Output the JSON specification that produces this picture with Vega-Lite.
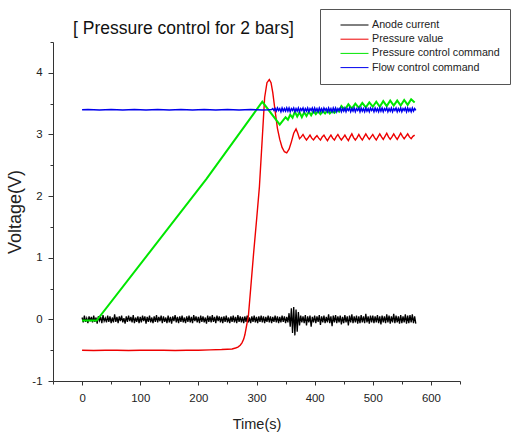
{
"$schema": "https://vega.github.io/schema/vega-lite/v6.json",
"width": 407, "height": 339,
"autosize": {"type": "none"},
"padding": {"left": 53, "top": 42, "right": 55, "bottom": 51},
"background": "white",
"config": {"view": {"stroke": null}, "font": "Liberation Sans"},
"title": {"text": "[ Pressure control for 2 bars]", "anchor": "start", "frame": "group", "dx": 20, "fontSize": 17.5, "fontWeight": "normal", "font": "Liberation Sans", "color": "#111", "offset": -29},
"data": {"values": [
{"s":"A","t":0,"v":0.03},{"s":"A","t":2,"v":-0.05},{"s":"A","t":4,"v":0.06},{"s":"A","t":6,"v":-0.04},{"s":"A","t":8,"v":0.02},{"s":"A","t":10,"v":-0.06},{"s":"A","t":12,"v":0.05},{"s":"A","t":14,"v":-0.03},{"s":"A","t":16,"v":0.04},{"s":"A","t":18,"v":-0.05},
{"s":"A","t":20,"v":0.06},{"s":"A","t":22,"v":-0.04},{"s":"A","t":24,"v":0.03},{"s":"A","t":26,"v":-0.07},{"s":"A","t":28,"v":0.05},{"s":"A","t":30,"v":-0.02},{"s":"A","t":32,"v":0.04},{"s":"A","t":34,"v":-0.06},{"s":"A","t":36,"v":0.07},{"s":"A","t":38,"v":-0.03},
{"s":"A","t":40,"v":0.02},{"s":"A","t":42,"v":-0.05},{"s":"A","t":44,"v":0.06},{"s":"A","t":46,"v":-0.04},{"s":"A","t":48,"v":0.05},{"s":"A","t":50,"v":-0.06},{"s":"A","t":52,"v":0.03},{"s":"A","t":54,"v":-0.05},{"s":"A","t":56,"v":0.08},{"s":"A","t":58,"v":-0.04},
{"s":"A","t":60,"v":0.04},{"s":"A","t":62,"v":-0.06},{"s":"A","t":64,"v":0.05},{"s":"A","t":66,"v":-0.03},{"s":"A","t":68,"v":0.06},{"s":"A","t":70,"v":-0.05},{"s":"A","t":72,"v":0.02},{"s":"A","t":74,"v":-0.07},{"s":"A","t":76,"v":0.05},{"s":"A","t":78,"v":-0.04},
{"s":"A","t":80,"v":0.06},{"s":"A","t":82,"v":-0.03},{"s":"A","t":84,"v":0.04},{"s":"A","t":86,"v":-0.05},{"s":"A","t":88,"v":0.07},{"s":"A","t":90,"v":-0.06},{"s":"A","t":92,"v":0.03},{"s":"A","t":94,"v":-0.04},{"s":"A","t":96,"v":0.05},{"s":"A","t":98,"v":-0.06},
{"s":"A","t":100,"v":0.04},{"s":"A","t":102,"v":-0.05},{"s":"A","t":104,"v":0.06},{"s":"A","t":106,"v":-0.03},{"s":"A","t":108,"v":0.05},{"s":"A","t":110,"v":-0.07},{"s":"A","t":112,"v":0.04},{"s":"A","t":114,"v":-0.04},{"s":"A","t":116,"v":0.06},{"s":"A","t":118,"v":-0.05},
{"s":"A","t":120,"v":0.03},{"s":"A","t":122,"v":-0.06},{"s":"A","t":124,"v":0.05},{"s":"A","t":126,"v":-0.04},{"s":"A","t":128,"v":0.07},{"s":"A","t":130,"v":-0.05},{"s":"A","t":132,"v":0.04},{"s":"A","t":134,"v":-0.03},{"s":"A","t":136,"v":0.06},{"s":"A","t":138,"v":-0.06},
{"s":"A","t":140,"v":0.05},{"s":"A","t":142,"v":-0.04},{"s":"A","t":144,"v":0.03},{"s":"A","t":146,"v":-0.06},{"s":"A","t":148,"v":0.06},{"s":"A","t":150,"v":-0.05},{"s":"A","t":152,"v":0.04},{"s":"A","t":154,"v":-0.07},{"s":"A","t":156,"v":0.05},{"s":"A","t":158,"v":-0.03},
{"s":"A","t":160,"v":0.07},{"s":"A","t":162,"v":-0.05},{"s":"A","t":164,"v":0.04},{"s":"A","t":166,"v":-0.06},{"s":"A","t":168,"v":0.05},{"s":"A","t":170,"v":-0.04},{"s":"A","t":172,"v":0.06},{"s":"A","t":174,"v":-0.05},{"s":"A","t":176,"v":0.03},{"s":"A","t":178,"v":-0.06},
{"s":"A","t":180,"v":0.05},{"s":"A","t":182,"v":-0.04},{"s":"A","t":184,"v":0.06},{"s":"A","t":186,"v":-0.05},{"s":"A","t":188,"v":0.04},{"s":"A","t":190,"v":-0.06},{"s":"A","t":192,"v":0.07},{"s":"A","t":194,"v":-0.03},{"s":"A","t":196,"v":0.05},{"s":"A","t":198,"v":-0.05},
{"s":"A","t":200,"v":0.04},{"s":"A","t":202,"v":-0.06},{"s":"A","t":204,"v":0.06},{"s":"A","t":206,"v":-0.04},{"s":"A","t":208,"v":0.05},{"s":"A","t":210,"v":-0.05},{"s":"A","t":212,"v":0.03},{"s":"A","t":214,"v":-0.07},{"s":"A","t":216,"v":0.06},{"s":"A","t":218,"v":-0.04},
{"s":"A","t":220,"v":0.05},{"s":"A","t":222,"v":-0.05},{"s":"A","t":224,"v":0.07},{"s":"A","t":226,"v":-0.04},{"s":"A","t":228,"v":0.04},{"s":"A","t":230,"v":-0.06},{"s":"A","t":232,"v":0.06},{"s":"A","t":234,"v":-0.03},{"s":"A","t":236,"v":0.05},{"s":"A","t":238,"v":-0.05},
{"s":"A","t":240,"v":0.04},{"s":"A","t":242,"v":-0.06},{"s":"A","t":244,"v":0.05},{"s":"A","t":246,"v":-0.04},{"s":"A","t":248,"v":0.06},{"s":"A","t":250,"v":-0.05},{"s":"A","t":252,"v":0.03},{"s":"A","t":254,"v":-0.06},{"s":"A","t":256,"v":0.05},{"s":"A","t":258,"v":-0.04},
{"s":"A","t":260,"v":0.06},{"s":"A","t":262,"v":-0.05},{"s":"A","t":264,"v":0.04},{"s":"A","t":266,"v":-0.06},{"s":"A","t":268,"v":0.07},{"s":"A","t":270,"v":-0.04},{"s":"A","t":272,"v":0.05},{"s":"A","t":274,"v":-0.05},{"s":"A","t":276,"v":0.04},{"s":"A","t":278,"v":-0.06},
{"s":"A","t":280,"v":0.05},{"s":"A","t":282,"v":-0.04},{"s":"A","t":284,"v":0.06},{"s":"A","t":286,"v":-0.05},{"s":"A","t":288,"v":0.03},{"s":"A","t":290,"v":-0.06},{"s":"A","t":292,"v":0.05},{"s":"A","t":294,"v":-0.04},{"s":"A","t":296,"v":0.06},{"s":"A","t":298,"v":-0.05},
{"s":"A","t":300,"v":0.04},{"s":"A","t":302,"v":-0.06},{"s":"A","t":304,"v":0.05},{"s":"A","t":306,"v":-0.04},{"s":"A","t":308,"v":0.06},{"s":"A","t":310,"v":-0.05},{"s":"A","t":312,"v":0.05},{"s":"A","t":314,"v":-0.06},{"s":"A","t":316,"v":0.04},{"s":"A","t":318,"v":-0.04},
{"s":"A","t":320,"v":0.06},{"s":"A","t":322,"v":-0.05},{"s":"A","t":324,"v":0.05},{"s":"A","t":326,"v":-0.06},{"s":"A","t":328,"v":0.04},{"s":"A","t":330,"v":-0.04},{"s":"A","t":332,"v":0.06},{"s":"A","t":334,"v":-0.05},{"s":"A","t":336,"v":0.05},{"s":"A","t":338,"v":-0.06},
{"s":"A","t":340,"v":0.04},{"s":"A","t":342,"v":-0.05},{"s":"A","t":344,"v":0.06},{"s":"A","t":346,"v":-0.04},{"s":"A","t":348,"v":0.05},{"s":"A","t":350,"v":-0.06},{"s":"A","t":352,"v":0.04},{"s":"A","t":354,"v":-0.05},{"s":"A","t":356,"v":0.10},{"s":"A","t":358,"v":-0.12},
{"s":"A","t":360,"v":0.18},{"s":"A","t":362,"v":-0.22},{"s":"A","t":364,"v":0.20},{"s":"A","t":366,"v":-0.26},{"s":"A","t":368,"v":0.16},{"s":"A","t":370,"v":-0.20},{"s":"A","t":372,"v":0.12},{"s":"A","t":374,"v":-0.10},{"s":"A","t":376,"v":0.06},{"s":"A","t":378,"v":-0.05},
{"s":"A","t":380,"v":0.05},{"s":"A","t":382,"v":-0.06},{"s":"A","t":384,"v":0.07},{"s":"A","t":386,"v":-0.10},{"s":"A","t":388,"v":0.05},{"s":"A","t":390,"v":-0.05},{"s":"A","t":392,"v":0.06},{"s":"A","t":394,"v":-0.12},{"s":"A","t":396,"v":0.04},{"s":"A","t":398,"v":-0.05},
{"s":"A","t":400,"v":0.06},{"s":"A","t":402,"v":-0.06},{"s":"A","t":404,"v":0.05},{"s":"A","t":406,"v":-0.04},{"s":"A","t":408,"v":0.07},{"s":"A","t":410,"v":-0.09},{"s":"A","t":412,"v":0.05},{"s":"A","t":414,"v":-0.05},{"s":"A","t":416,"v":0.06},{"s":"A","t":418,"v":-0.06},
{"s":"A","t":420,"v":0.04},{"s":"A","t":422,"v":-0.05},{"s":"A","t":424,"v":0.08},{"s":"A","t":426,"v":-0.06},{"s":"A","t":428,"v":0.05},{"s":"A","t":430,"v":-0.11},{"s":"A","t":432,"v":0.06},{"s":"A","t":434,"v":-0.05},{"s":"A","t":436,"v":0.07},{"s":"A","t":438,"v":-0.06},
{"s":"A","t":440,"v":0.05},{"s":"A","t":442,"v":-0.05},{"s":"A","t":444,"v":0.06},{"s":"A","t":446,"v":-0.08},{"s":"A","t":448,"v":0.04},{"s":"A","t":450,"v":-0.06},{"s":"A","t":452,"v":0.07},{"s":"A","t":454,"v":-0.05},{"s":"A","t":456,"v":0.05},{"s":"A","t":458,"v":-0.10},
{"s":"A","t":460,"v":0.06},{"s":"A","t":462,"v":-0.05},{"s":"A","t":464,"v":0.08},{"s":"A","t":466,"v":-0.06},{"s":"A","t":468,"v":0.05},{"s":"A","t":470,"v":-0.05},{"s":"A","t":472,"v":0.06},{"s":"A","t":474,"v":-0.07},{"s":"A","t":476,"v":0.05},{"s":"A","t":478,"v":-0.06},
{"s":"A","t":480,"v":0.07},{"s":"A","t":482,"v":-0.05},{"s":"A","t":484,"v":0.05},{"s":"A","t":486,"v":-0.06},{"s":"A","t":488,"v":0.09},{"s":"A","t":490,"v":-0.05},{"s":"A","t":492,"v":0.05},{"s":"A","t":494,"v":-0.07},{"s":"A","t":496,"v":0.06},{"s":"A","t":498,"v":-0.05},
{"s":"A","t":500,"v":0.06},{"s":"A","t":502,"v":-0.06},{"s":"A","t":504,"v":0.05},{"s":"A","t":506,"v":-0.05},{"s":"A","t":508,"v":0.07},{"s":"A","t":510,"v":-0.06},{"s":"A","t":512,"v":0.05},{"s":"A","t":514,"v":-0.08},{"s":"A","t":516,"v":0.06},{"s":"A","t":518,"v":-0.05},
{"s":"A","t":520,"v":0.05},{"s":"A","t":522,"v":-0.06},{"s":"A","t":524,"v":0.08},{"s":"A","t":526,"v":-0.05},{"s":"A","t":528,"v":0.06},{"s":"A","t":530,"v":-0.07},{"s":"A","t":532,"v":0.05},{"s":"A","t":534,"v":-0.05},{"s":"A","t":536,"v":0.09},{"s":"A","t":538,"v":-0.06},
{"s":"A","t":540,"v":0.06},{"s":"A","t":542,"v":-0.05},{"s":"A","t":544,"v":0.05},{"s":"A","t":546,"v":-0.07},{"s":"A","t":548,"v":0.07},{"s":"A","t":550,"v":-0.06},{"s":"A","t":552,"v":0.05},{"s":"A","t":554,"v":-0.05},{"s":"A","t":556,"v":0.08},{"s":"A","t":558,"v":-0.07},
{"s":"A","t":560,"v":0.06},{"s":"A","t":562,"v":-0.06},{"s":"A","t":564,"v":0.07},{"s":"A","t":566,"v":-0.05},{"s":"A","t":568,"v":0.08},{"s":"A","t":570,"v":-0.06},{"s":"A","t":572,"v":0.05},{"s":"A","t":574,"v":-0.07},
{"s":"P","t":0,"v":-0.5},{"s":"P","t":20,"v":-0.505},{"s":"P","t":40,"v":-0.5},{"s":"P","t":60,"v":-0.5},{"s":"P","t":80,"v":-0.505},{"s":"P","t":100,"v":-0.5},{"s":"P","t":120,"v":-0.5},{"s":"P","t":140,"v":-0.5},{"s":"P","t":160,"v":-0.505},{"s":"P","t":180,"v":-0.5},{"s":"P","t":200,"v":-0.5},{"s":"P","t":220,"v":-0.495},{"s":"P","t":240,"v":-0.49},{"s":"P","t":250,"v":-0.485},{"s":"P","t":258,"v":-0.48},{"s":"P","t":264,"v":-0.465},{"s":"P","t":268,"v":-0.45},{"s":"P","t":272,"v":-0.42},{"s":"P","t":275,"v":-0.38},{"s":"P","t":278,"v":-0.32},{"s":"P","t":280,"v":-0.25},{"s":"P","t":282,"v":-0.15},{"s":"P","t":284,"v":-0.05},{"s":"P","t":286,"v":0.05},
{"s":"P","t":290,"v":0.5},{"s":"P","t":295,"v":1.07},{"s":"P","t":300,"v":1.6},{"s":"P","t":305,"v":2.15},{"s":"P","t":310,"v":2.95},{"s":"P","t":314,"v":3.6},{"s":"P","t":318,"v":3.84},{"s":"P","t":322,"v":3.89},{"s":"P","t":325,"v":3.84},{"s":"P","t":328,"v":3.68},{"s":"P","t":332,"v":3.38},{"s":"P","t":336,"v":3.1},{"s":"P","t":340,"v":2.92},{"s":"P","t":344,"v":2.79},{"s":"P","t":348,"v":2.72},{"s":"P","t":352,"v":2.7},{"s":"P","t":356,"v":2.76},{"s":"P","t":360,"v":2.88},{"s":"P","t":364,"v":3.02},{"s":"P","t":368,"v":3.09},{"s":"P","t":371,"v":3.02},
{"s":"P","t":374,"v":2.93},{"s":"P","t":377,"v":2.96},{"s":"P","t":380,"v":3.0},{"s":"P","t":383,"v":2.95},{"s":"P","t":386,"v":2.91},{"s":"P","t":389,"v":2.95},{"s":"P","t":392,"v":2.99},{"s":"P","t":395,"v":2.94},{"s":"P","t":398,"v":2.91},{"s":"P","t":401,"v":2.95},{"s":"P","t":404,"v":2.98},{"s":"P","t":407,"v":2.94},{"s":"P","t":410,"v":2.91},{"s":"P","t":413,"v":2.96},{"s":"P","t":416,"v":2.99},{"s":"P","t":419,"v":2.94},{"s":"P","t":422,"v":2.9},{"s":"P","t":425,"v":2.95},{"s":"P","t":428,"v":2.99},{"s":"P","t":431,"v":2.94},{"s":"P","t":434,"v":2.91},{"s":"P","t":437,"v":2.96},{"s":"P","t":440,"v":3.0},{"s":"P","t":443,"v":2.95},{"s":"P","t":446,"v":2.91},{"s":"P","t":449,"v":2.95},{"s":"P","t":452,"v":2.99},{"s":"P","t":455,"v":2.94},{"s":"P","t":458,"v":2.9},{"s":"P","t":461,"v":2.96},{"s":"P","t":464,"v":3.01},{"s":"P","t":467,"v":2.95},{"s":"P","t":470,"v":2.91},{"s":"P","t":473,"v":2.95},{"s":"P","t":476,"v":3.0},{"s":"P","t":479,"v":2.95},{"s":"P","t":482,"v":2.91},{"s":"P","t":485,"v":2.96},{"s":"P","t":488,"v":3.01},{"s":"P","t":491,"v":2.96},{"s":"P","t":494,"v":2.92},{"s":"P","t":497,"v":2.96},{"s":"P","t":500,"v":3.0},{"s":"P","t":503,"v":2.95},{"s":"P","t":506,"v":2.91},{"s":"P","t":509,"v":2.96},{"s":"P","t":512,"v":3.01},{"s":"P","t":515,"v":2.96},{"s":"P","t":518,"v":2.92},{"s":"P","t":521,"v":2.97},{"s":"P","t":524,"v":3.02},{"s":"P","t":527,"v":2.96},{"s":"P","t":530,"v":2.92},{"s":"P","t":533,"v":2.96},{"s":"P","t":536,"v":3.01},{"s":"P","t":539,"v":2.96},{"s":"P","t":542,"v":2.92},{"s":"P","t":545,"v":2.97},{"s":"P","t":548,"v":3.02},{"s":"P","t":551,"v":2.97},{"s":"P","t":554,"v":2.93},{"s":"P","t":557,"v":2.97},{"s":"P","t":560,"v":3.01},{"s":"P","t":563,"v":2.96},{"s":"P","t":566,"v":2.93},{"s":"P","t":569,"v":2.97},{"s":"P","t":572,"v":2.99},
{"s":"C","t":0,"v":-0.02},{"s":"C","t":25,"v":-0.02},{"s":"C","t":214,"v":2.28},{"s":"C","t":310,"v":3.53},{"s":"C","t":340,"v":3.16},{"s":"C","t":345,"v":3.22},{"s":"C","t":350,"v":3.28},{"s":"C","t":354,"v":3.24},{"s":"C","t":358,"v":3.32},{"s":"C","t":362,"v":3.27},{"s":"C","t":366,"v":3.37},{"s":"C","t":370,"v":3.29},{"s":"C","t":374,"v":3.36},{"s":"C","t":378,"v":3.28},{"s":"C","t":382,"v":3.36},{"s":"C","t":386,"v":3.3},{"s":"C","t":390,"v":3.37},{"s":"C","t":394,"v":3.31},{"s":"C","t":398,"v":3.38},{"s":"C","t":402,"v":3.33},{"s":"C","t":406,"v":3.38},{"s":"C","t":410,"v":3.33},{"s":"C","t":414,"v":3.38},{"s":"C","t":418,"v":3.34},{"s":"C","t":422,"v":3.39},{"s":"C","t":426,"v":3.34},{"s":"C","t":430,"v":3.38},{"s":"C","t":434,"v":3.35},{"s":"C","t":438,"v":3.4},{"s":"C","t":442,"v":3.37},
{"s":"C","t":446,"v":3.46},{"s":"C","t":452,"v":3.4},{"s":"C","t":458,"v":3.49},{"s":"C","t":464,"v":3.42},{"s":"C","t":470,"v":3.5},{"s":"C","t":476,"v":3.43},{"s":"C","t":482,"v":3.51},{"s":"C","t":488,"v":3.44},{"s":"C","t":494,"v":3.52},{"s":"C","t":500,"v":3.45},{"s":"C","t":506,"v":3.53},{"s":"C","t":512,"v":3.45},{"s":"C","t":518,"v":3.54},{"s":"C","t":524,"v":3.46},{"s":"C","t":530,"v":3.55},{"s":"C","t":536,"v":3.47},{"s":"C","t":542,"v":3.55},{"s":"C","t":548,"v":3.47},{"s":"C","t":554,"v":3.56},{"s":"C","t":560,"v":3.48},{"s":"C","t":566,"v":3.57},{"s":"C","t":572,"v":3.52},
{"s":"F","t":0,"v":3.4},{"s":"F","t":10,"v":3.405},{"s":"F","t":20,"v":3.4},{"s":"F","t":30,"v":3.395},{"s":"F","t":40,"v":3.4},{"s":"F","t":50,"v":3.405},{"s":"F","t":60,"v":3.4},{"s":"F","t":70,"v":3.395},{"s":"F","t":80,"v":3.4},{"s":"F","t":90,"v":3.405},{"s":"F","t":100,"v":3.4},{"s":"F","t":110,"v":3.395},{"s":"F","t":120,"v":3.4},{"s":"F","t":130,"v":3.405},{"s":"F","t":140,"v":3.4},{"s":"F","t":150,"v":3.395},{"s":"F","t":160,"v":3.4},{"s":"F","t":170,"v":3.405},{"s":"F","t":180,"v":3.4},{"s":"F","t":190,"v":3.395},{"s":"F","t":200,"v":3.4},{"s":"F","t":210,"v":3.405},{"s":"F","t":220,"v":3.4},{"s":"F","t":230,"v":3.395},{"s":"F","t":240,"v":3.4},{"s":"F","t":250,"v":3.405},{"s":"F","t":260,"v":3.4},{"s":"F","t":270,"v":3.395},{"s":"F","t":280,"v":3.4},{"s":"F","t":290,"v":3.405},{"s":"F","t":300,"v":3.4},{"s":"F","t":310,"v":3.395},{"s":"F","t":320,"v":3.4},{"s":"F","t":326,"v":3.405},
{"s":"F","t":328,"v":3.42},{"s":"F","t":330,"v":3.39},{"s":"F","t":332,"v":3.42},{"s":"F","t":334,"v":3.38},{"s":"F","t":336,"v":3.43},{"s":"F","t":338,"v":3.39},{"s":"F","t":340,"v":3.42},{"s":"F","t":342,"v":3.37},{"s":"F","t":344,"v":3.43},{"s":"F","t":346,"v":3.38},
{"s":"F","t":348,"v":3.42},{"s":"F","t":350,"v":3.38},{"s":"F","t":352,"v":3.43},{"s":"F","t":354,"v":3.38},{"s":"F","t":356,"v":3.43},{"s":"F","t":358,"v":3.37},{"s":"F","t":360,"v":3.42},{"s":"F","t":362,"v":3.39},{"s":"F","t":364,"v":3.43},{"s":"F","t":366,"v":3.37},
{"s":"F","t":368,"v":3.42},{"s":"F","t":370,"v":3.38},{"s":"F","t":372,"v":3.43},{"s":"F","t":374,"v":3.37},{"s":"F","t":376,"v":3.42},{"s":"F","t":378,"v":3.39},{"s":"F","t":380,"v":3.43},{"s":"F","t":382,"v":3.37},{"s":"F","t":384,"v":3.42},{"s":"F","t":386,"v":3.38},
{"s":"F","t":388,"v":3.43},{"s":"F","t":390,"v":3.37},{"s":"F","t":392,"v":3.42},{"s":"F","t":394,"v":3.39},{"s":"F","t":396,"v":3.43},{"s":"F","t":398,"v":3.37},{"s":"F","t":400,"v":3.43},{"s":"F","t":402,"v":3.38},{"s":"F","t":404,"v":3.42},{"s":"F","t":406,"v":3.37},
{"s":"F","t":408,"v":3.43},{"s":"F","t":410,"v":3.38},{"s":"F","t":412,"v":3.42},{"s":"F","t":414,"v":3.37},{"s":"F","t":416,"v":3.43},{"s":"F","t":418,"v":3.39},{"s":"F","t":420,"v":3.42},{"s":"F","t":422,"v":3.37},{"s":"F","t":424,"v":3.43},{"s":"F","t":426,"v":3.38},
{"s":"F","t":428,"v":3.42},{"s":"F","t":430,"v":3.37},{"s":"F","t":432,"v":3.43},{"s":"F","t":434,"v":3.38},{"s":"F","t":436,"v":3.43},{"s":"F","t":438,"v":3.37},{"s":"F","t":440,"v":3.42},{"s":"F","t":442,"v":3.39},{"s":"F","t":444,"v":3.43},{"s":"F","t":446,"v":3.37},
{"s":"F","t":448,"v":3.42},{"s":"F","t":450,"v":3.38},{"s":"F","t":452,"v":3.43},{"s":"F","t":454,"v":3.37},{"s":"F","t":456,"v":3.42},{"s":"F","t":458,"v":3.39},{"s":"F","t":460,"v":3.43},{"s":"F","t":462,"v":3.37},{"s":"F","t":464,"v":3.42},{"s":"F","t":466,"v":3.38},
{"s":"F","t":468,"v":3.43},{"s":"F","t":470,"v":3.37},{"s":"F","t":472,"v":3.42},{"s":"F","t":474,"v":3.39},{"s":"F","t":476,"v":3.43},{"s":"F","t":478,"v":3.37},{"s":"F","t":480,"v":3.43},{"s":"F","t":482,"v":3.38},{"s":"F","t":484,"v":3.42},{"s":"F","t":486,"v":3.37},
{"s":"F","t":488,"v":3.43},{"s":"F","t":490,"v":3.38},{"s":"F","t":492,"v":3.42},{"s":"F","t":494,"v":3.37},{"s":"F","t":496,"v":3.43},{"s":"F","t":498,"v":3.39},{"s":"F","t":500,"v":3.42},{"s":"F","t":502,"v":3.37},{"s":"F","t":504,"v":3.43},{"s":"F","t":506,"v":3.38},
{"s":"F","t":508,"v":3.42},{"s":"F","t":510,"v":3.37},{"s":"F","t":512,"v":3.43},{"s":"F","t":514,"v":3.38},{"s":"F","t":516,"v":3.43},{"s":"F","t":518,"v":3.37},{"s":"F","t":520,"v":3.42},{"s":"F","t":522,"v":3.39},{"s":"F","t":524,"v":3.43},{"s":"F","t":526,"v":3.37},
{"s":"F","t":528,"v":3.42},{"s":"F","t":530,"v":3.38},{"s":"F","t":532,"v":3.43},{"s":"F","t":534,"v":3.37},{"s":"F","t":536,"v":3.42},{"s":"F","t":538,"v":3.39},{"s":"F","t":540,"v":3.43},{"s":"F","t":542,"v":3.37},{"s":"F","t":544,"v":3.42},{"s":"F","t":546,"v":3.38},
{"s":"F","t":548,"v":3.43},{"s":"F","t":550,"v":3.37},{"s":"F","t":552,"v":3.42},{"s":"F","t":554,"v":3.39},{"s":"F","t":556,"v":3.43},{"s":"F","t":558,"v":3.37},{"s":"F","t":560,"v":3.43},{"s":"F","t":562,"v":3.38},{"s":"F","t":564,"v":3.42},{"s":"F","t":566,"v":3.37},
{"s":"F","t":568,"v":3.43},{"s":"F","t":570,"v":3.38},{"s":"F","t":572,"v":3.42},{"s":"F","t":574,"v":3.39}
]},
"encoding": {
"x": {"field": "t", "type": "quantitative", "scale": {"domain": [-50, 650], "nice": false, "zero": false},
 "axis": {"title": "Time(s)", "values": [-50,0,50,100,150,200,250,300,350,400,450,500,550,600,650],
  "labelExpr": "datum.value % 100 === 0 && datum.value >= 0 && datum.value <= 600 ? '' + datum.value : ''",
  "grid": false, "domainColor": "#333", "tickColor": "#333", "tickSize": {"condition": {"test": "datum.value % 100 === 0", "value": 4}, "value": 3},
  "labelFontSize": 11.4, "labelPadding": 7, "labelFont": "Liberation Sans", "labelColor": "#222", "labelFlush": false, "labelOverlap": false,
  "titleFontSize": 14.5, "titleFontWeight": "normal", "titleFont": "Liberation Sans", "titleColor": "#222", "titlePadding": 14}},
"y": {"field": "v", "type": "quantitative", "scale": {"domain": [-1, 4.5], "nice": false, "zero": false},
 "axis": {"title": "Voltage(V)", "values": [-1,-0.5,0,0.5,1,1.5,2,2.5,3,3.5,4,4.5],
  "labelExpr": "datum.value % 1 === 0 ? '' + datum.value : ''",
  "grid": false, "domainColor": "#333", "tickColor": "#333", "tickSize": {"condition": {"test": "datum.value % 1 === 0", "value": 5}, "value": 3},
  "labelFontSize": 11.4, "labelPadding": 6, "labelFont": "Liberation Sans", "labelColor": "#222", "labelFlush": false, "labelOverlap": false,
  "titleFontSize": 18, "titleFontWeight": "normal", "titleFont": "Liberation Sans", "titleColor": "#222", "titlePadding": 7}},
"color": {"field": "s", "type": "nominal",
  "scale": {"domain": ["A", "P", "C", "F"], "range": ["#000000", "#ee0000", "#00e600", "#0000ee"]},
  "legend": {"orient": "none", "legendX": 267, "legendY": -33, "title": null, "symbolType": "stroke", "symbolSize": 784, "symbolStrokeWidth": 1,
    "labelExpr": "datum.value === 'A' ? 'Anode current' : datum.value === 'P' ? 'Pressure value' : datum.value === 'C' ? 'Pressure control command' : 'Flow control command'",
    "labelFontSize": 10.7, "labelFont": "Liberation Sans", "labelColor": "#222", "labelLimit": 300, "strokeColor": "#555", "fillColor": "white", "padding": 10, "symbolOffset": 10, "labelOffset": 3, "clipHeight": 12, "rowPadding": 2.2}}
},
"layer": [
{"transform": [{"filter": "datum.s === 'A'"}], "mark": {"type": "line", "strokeWidth": 1.3, "clip": true}},
{"transform": [{"filter": "datum.s === 'P'"}], "mark": {"type": "line", "strokeWidth": 1.4, "clip": true}},
{"transform": [{"filter": "datum.s === 'C'"}], "mark": {"type": "line", "strokeWidth": 2, "clip": true}},
{"transform": [{"filter": "datum.s === 'F'"}], "mark": {"type": "line", "strokeWidth": 1.5, "clip": true}}
]
}
